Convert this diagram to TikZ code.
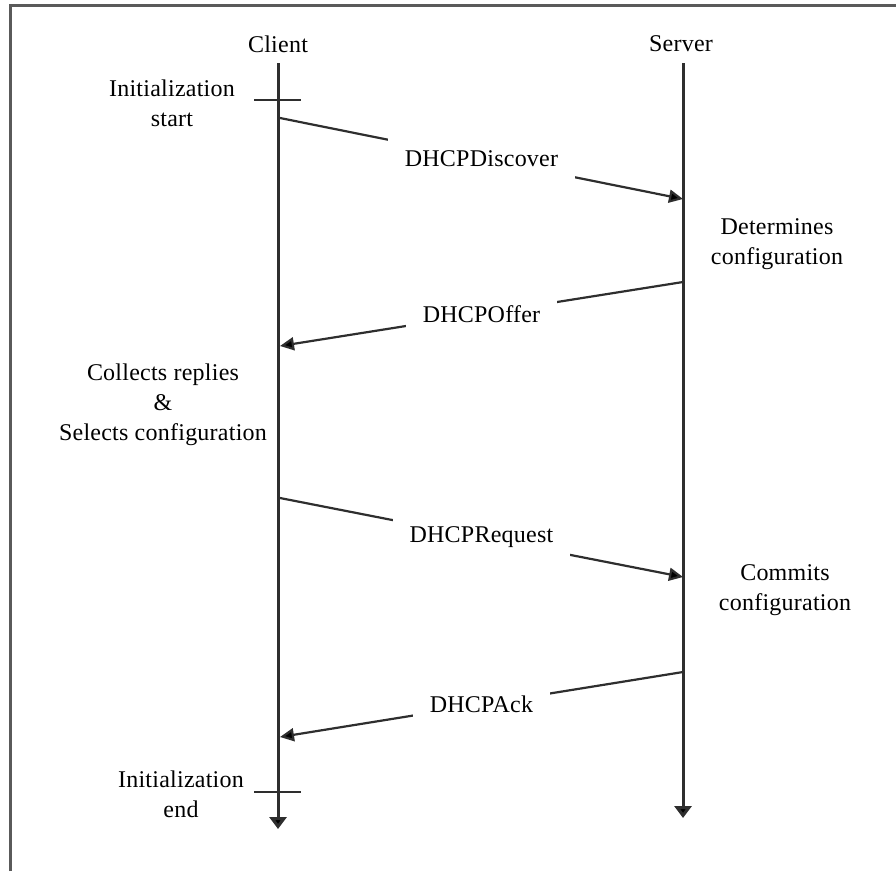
\documentclass[tikz,border=0pt]{standalone}
\usepackage{fontspec}
\setmainfont{Liberation Serif}[LetterSpace=1]
\usetikzlibrary{arrows.meta}
\definecolor{lineGray}{HTML}{2E2E2E}
\definecolor{frameGray}{HTML}{5A5A5A}
\begin{document}
\begin{tikzpicture}[x=1pt,y=-1pt,
  txt/.style={font=\fontsize{24}{30}\selectfont, align=center, inner sep=0pt, text=black},
  lifeline/.style={draw=lineGray, line width=3pt, -{Triangle[length=12pt,width=17pt,fill=black]}},
  tick/.style={draw=lineGray, line width=2.2pt},
  msg/.style={draw=lineGray, line width=2.2pt, -{Triangle[length=14pt,width=13pt,fill=black]}},
  lbl/.style={txt, fill=white, inner xsep=17pt, inner ysep=14pt},
  frame/.style={draw=frameGray, line width=3pt}]
\useasboundingbox (0,0) rectangle (896,871);

% outer frame (top and left edges)
\draw[frame] (10,871) -- (10,5) -- (896,5);

% participants
\node[txt] (client) at (278,44) {Client};
\node[txt] (server) at (681,44) {Server};

% lifelines
\coordinate (cTop) at (278,63);
\coordinate (cEnd) at (278,829);
\coordinate (sTop) at (683,63);
\coordinate (sEnd) at (683,818);
\draw[lifeline] (cTop) -- (cEnd);
\draw[lifeline] (sTop) -- (sEnd);

% initialization ticks
\coordinate (t1a) at (254,100); \coordinate (t1b) at (301,100);
\coordinate (t2a) at (254,792); \coordinate (t2b) at (301,792);
\draw[tick] (t1a) -- (t1b);
\draw[tick] (t2a) -- (t2b);
\node[txt] (initStart) at (172,103) {Initialization\\start};
\node[txt] (initEnd) at (181,794) {Initialization\\end};

% side notes
\node[txt] (determines) at (777,244) {Determines\\configuration};
\node[txt] (collects) at (163,405) {Collects replies\\\&\\Selects configuration};
\node[txt] (commits) at (785,590) {Commits\\configuration};

% messages
\coordinate (m1a) at (280,118); \coordinate (m1b) at (683,199);
\coordinate (m2a) at (683,282); \coordinate (m2b) at (280,346);
\coordinate (m3a) at (280,498); \coordinate (m3b) at (683,577);
\coordinate (m4a) at (683,672); \coordinate (m4b) at (280,737);
\draw[msg] (m1a) -- node[lbl] (discover) {DHCPDiscover} (m1b);
\draw[msg] (m2a) -- node[lbl] (offer) {DHCPOffer} (m2b);
\draw[msg] (m3a) -- node[lbl] (request) {DHCPRequest} (m3b);
\draw[msg] (m4a) -- node[lbl] (ack) {DHCPAck} (m4b);
\end{tikzpicture}
\end{document}
